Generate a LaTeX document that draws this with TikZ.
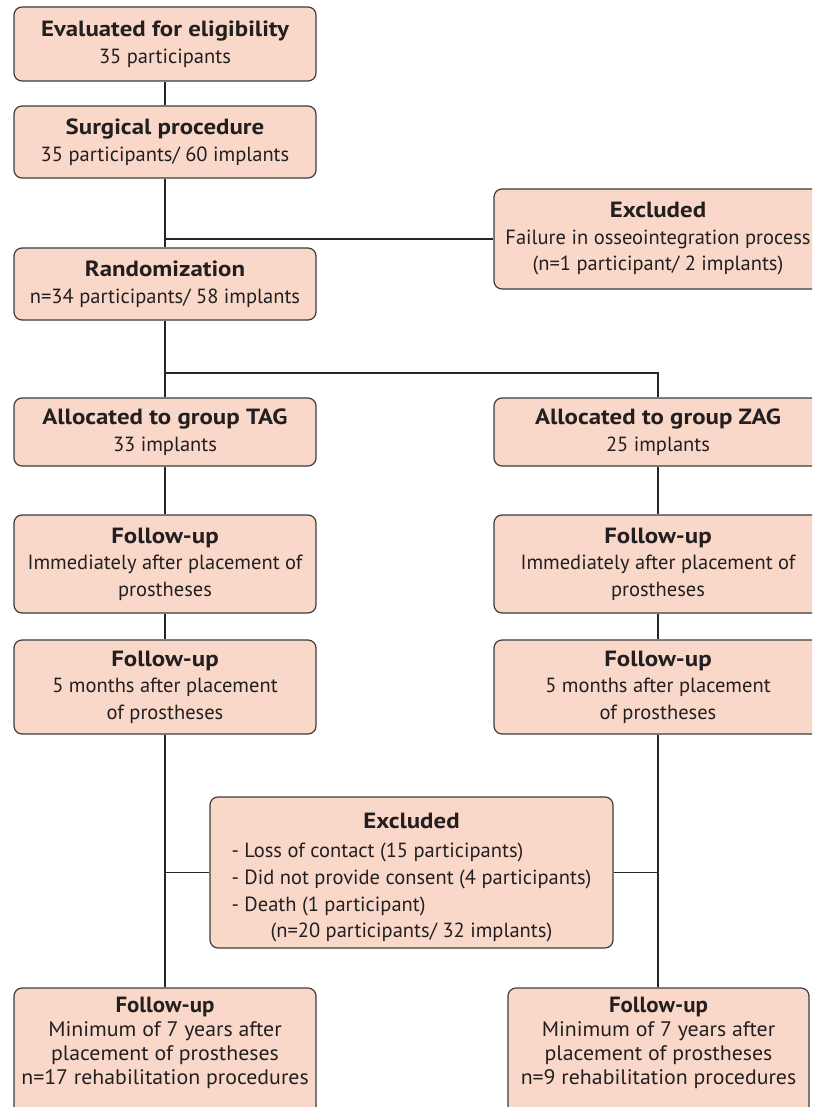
\documentclass[tikz,border=0pt]{standalone}
\usepackage{fontspec}
\setmainfont{PT Sans}[BoldFeatures={FakeStretch=1.13}]
\newfontfamily\condfont{PT Sans}[FakeStretch=1.04]
\definecolor{boxfill}{RGB}{250,216,201}
\definecolor{boxline}{RGB}{60,60,60}
\definecolor{txt}{RGB}{35,31,32}
\newcommand\hd[1]{{\fontsize{22}{26}\selectfont\bfseries #1}}
\begin{document}
\begin{tikzpicture}[x=1pt,y=-1pt,
  flowbox/.style={draw=boxline,fill=boxfill,line width=1.2pt,rounded corners=8pt,
    align=center,inner sep=0pt,text=txt,font=\fontsize{20.5}{26.5}\selectfont},
  plaintext/.style={align=center,inner sep=0pt,text=txt,font=\fontsize{21}{24}\selectfont\condfont},
  conn/.style={draw=black!85,line width=1.1pt}]
\useasboundingbox (0,0) rectangle (812,1107);
\clip (0,0) rectangle (812,1107);
% boxes
\node[flowbox,minimum width=302pt,minimum height=74pt] (b1) at (165,44)
  {\hd{Evaluated for eligibility}\\35 participants};
\node[flowbox,minimum width=302pt,minimum height=72pt] (b2) at (165,142)
  {\hd{Surgical procedure}\\35 participants/ 60 implants};
\node[flowbox,minimum width=328pt,minimum height=100pt] (exc1) at (658,239)
  {\hd{Excluded}\\Failure in osseointegration process\\(n=1 participant/ 2 implants)};
\node[flowbox,minimum width=302pt,minimum height=72pt] (rand) at (165,284)
  {\hd{Randomization}\\n=34 participants/ 58 implants};
\node[flowbox,minimum width=302pt,minimum height=68pt] (tag) at (165,432)
  {\hd{Allocated to group TAG}\\33 implants};
\node[flowbox,minimum width=328pt,minimum height=68pt] (zag) at (658,432)
  {\hd{Allocated to group ZAG}\\25 implants};
\node[flowbox,minimum width=302pt,minimum height=98pt] (fu1l) at (165,564)
  {\hd{Follow-up}\\Immediately after placement of\\prostheses};
\node[flowbox,minimum width=328pt,minimum height=98pt] (fu1r) at (658,564)
  {\hd{Follow-up}\\Immediately after placement of\\prostheses};
\node[flowbox,minimum width=302pt,minimum height=94pt] (fu2l) at (165,687)
  {\hd{Follow-up}\\5 months after placement\\of prostheses};
\node[flowbox,minimum width=328pt,minimum height=94pt] (fu2r) at (658,687)
  {\hd{Follow-up}\\5 months after placement\\of prostheses};
\node[flowbox,minimum width=403pt,minimum height=151pt] (exc2) at (411.5,872.5)
  {\rule{0pt}{28.5pt}\hd{Excluded}\\[2.5pt]
   \begin{tabular}[t]{@{}l@{}}- Loss of contact (15 participants)\\[0.5pt]
   - Did not provide consent (4 participants)\\[0.5pt]
   - Death (1 participant)\\[0pt]
   \hspace{39pt}(n=20 participants/ 32 implants)\end{tabular}};
\node[flowbox,minimum width=302pt,minimum height=130pt] (fu3l) at (165,1053) {};
\node[flowbox,minimum width=301pt,minimum height=130pt] (fu3r) at (658.5,1053) {};
\node[plaintext] (fu3lt) at (165,1043)
  {\hd{Follow-up}\\Minimum of 7 years after\\placement of prostheses\\n=17 rehabilitation procedures};
\node[plaintext] (fu3rt) at (658.5,1043)
  {\hd{Follow-up}\\Minimum of 7 years after\\placement of prostheses\\n=9 rehabilitation procedures};
% junctions
\coordinate (j1) at (b2.south |- exc1.west);
\coordinate (j2) at (165,373);
\coordinate (j3) at (fu2l.south |- exc2.west);
\coordinate (j4) at (fu2r.south |- exc2.east);
% connectors
\draw[conn] (b1.south) -- (b2.north);
\draw[conn] (b2.south) -- (rand.north);
\draw[conn] (j1) -- (exc1.west);
\draw[conn] (rand.south) -- (tag.north);
\draw[conn] (j2) -| (zag.north);
\draw[conn] (tag.south) -- (fu1l.north);
\draw[conn] (zag.south) -- (fu1r.north);
\draw[conn] (fu1l.south) -- (fu2l.north);
\draw[conn] (fu1r.south) -- (fu2r.north);
\draw[conn] (fu2l.south) -- (fu2l.south |- fu3l.north);
\draw[conn] (fu2r.south) -- (fu2r.south |- fu3r.north);
\draw[conn] (j3) -- (exc2.west);
\draw[conn] (exc2.east) -- (j4);
\end{tikzpicture}
\end{document}
